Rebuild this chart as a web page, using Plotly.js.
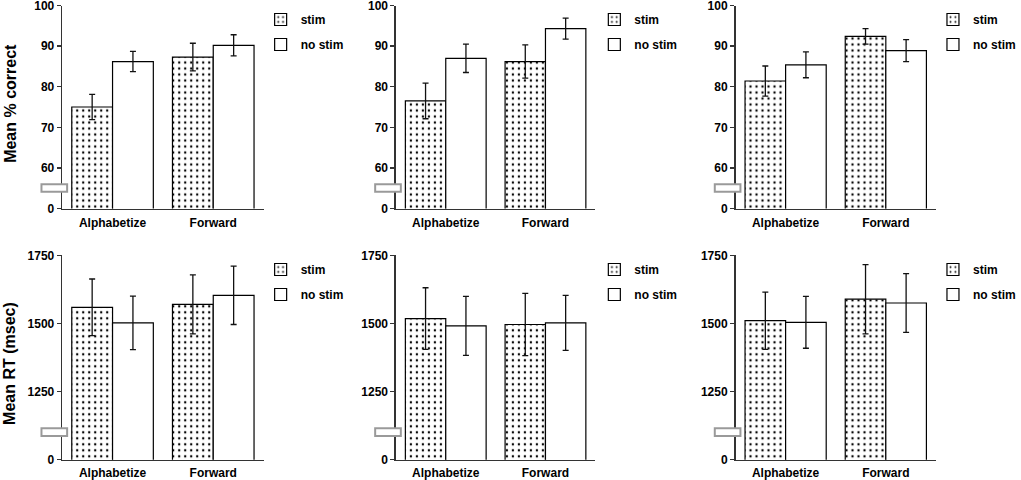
<!DOCTYPE html>
<html>
<head>
<meta charset="utf-8">
<script src="https://cdn.plot.ly/plotly-3.0.1.min.js"></script>
<style>html,body{margin:0;padding:0;background:#fff;}#chart{width:1021px;height:480px;}</style>
</head>
<body>
<div id="chart"></div>
<script>
// ---- data ----
const categories = ['Alphabetize', 'Forward'];
const seriesNames = ['stim', 'no stim'];

// Mean % correct (three panels, top row)
const accStim      = [[75.0, 87.3], [76.5, 86.2], [81.4, 92.4]];
const accStimErr   = [[3.1, 3.4],   [4.4, 4.1],   [3.7, 1.9]];
const accNoStim    = [[86.2, 90.2], [87.0, 94.3], [85.4, 88.9]];
const accNoStimErr = [[2.5, 2.6],   [3.5, 2.6],   [3.2, 2.7]];

// Mean RT in msec (three panels, bottom row)
const rtStim      = [[1559, 1570], [1518, 1496], [1510, 1589]];
const rtStimErr   = [[104, 108],   [113, 114],   [105, 127]];
const rtNoStim    = [[1502, 1603], [1491, 1502], [1504, 1575]];
const rtNoStimErr = [[98, 107],    [108, 101],   [95, 108]];

// axis ticks (broken axis: bottom tick labelled 0)
const accTickVals = [50, 60, 70, 80, 90, 100];
const accTickText = ['0', '60', '70', '80', '90', '100'];
const rtTickVals  = [1000, 1250, 1500, 1750];
const rtTickText  = ['0', '1250', '1500', '1750'];
const accTitle = 'Mean % correct';
const rtTitle  = 'Mean RT (msec)';

// ---- layout helpers ----
const W = 1021, H = 480;
const FONT = 'Liberation Sans, Arial, Helvetica, sans-serif';
const xDomPx = [[63, 267], [401, 603], [745, 948]];
const topDomPx = [5.5, 208.5];
const botDomPx = [255.3, 459.7];
const legendLeftPx = [264, 602, 945];

const traces = [];
const layout = {
  width: W, height: H,
  margin: {l: 0, r: 0, t: 0, b: 0},
  paper_bgcolor: '#fff', plot_bgcolor: '#fff',
  barmode: 'group', bargap: 0.19, bargroupgap: 0,
  font: {family: FONT, size: 12, color: '#000', weight: 'bold'},
  shapes: [], annotations: []
};

function addPanel(idx, stim, stimErr, noStim, noStimErr, tickVals, tickText, range, domPx, breakRange, legendTopPx, xTickLen) {
  const n = idx + 1;
  const xa = n === 1 ? 'x' : 'x' + n;
  const ya = n === 1 ? 'y' : 'y' + n;
  const lg = n === 1 ? 'legend' : 'legend' + n;
  const col = idx % 3;
  const errStyle = {type: 'data', visible: true, color: '#111', thickness: 1.3, width: 3};
  traces.push({
    type: 'bar', x: categories, y: stim, name: seriesNames[0],
    xaxis: xa, yaxis: ya, legend: lg, legendgroup: 'g' + n + 'a',
    marker: {color: '#fff', line: {color: '#000', width: 1.2},
      pattern: {shape: '.', size: 6, solidity: 0.12, fgcolor: '#000', bgcolor: '#fff'}},
    error_y: Object.assign({array: stimErr}, errStyle),
    hoverinfo: 'skip'
  });
  traces.push({
    type: 'bar', x: categories, y: noStim, name: seriesNames[1],
    xaxis: xa, yaxis: ya, legend: lg, legendgroup: 'g' + n + 'b',
    marker: {color: '#fff', line: {color: '#000', width: 1.2}},
    error_y: Object.assign({array: noStimErr}, errStyle),
    hoverinfo: 'skip'
  });
  const xKey = n === 1 ? 'xaxis' : 'xaxis' + n;
  const yKey = n === 1 ? 'yaxis' : 'yaxis' + n;
  layout[xKey] = {
    domain: [xDomPx[col][0] / W, xDomPx[col][1] / W],
    anchor: ya, range: [-0.5, 1.5], type: 'category',
    showline: true, linecolor: '#333', linewidth: 1.5,
    ticks: 'outside', ticklen: xTickLen, tickcolor: 'rgba(0,0,0,0)',
    ticklabeloverflow: 'allow',
    showgrid: false, zeroline: false, fixedrange: true,
    tickfont: {family: FONT, size: 12, color: '#000', weight: 'bold'}
  };
  layout[yKey] = {
    domain: [1 - domPx[1] / H, 1 - domPx[0] / H],
    anchor: xa, range: range,
    tickvals: tickVals, ticktext: tickText,
    showline: true, linecolor: '#333', linewidth: 1.5,
    ticks: 'outside', ticklen: 4, tickcolor: '#333', tickwidth: 1.3,
    ticklabeloverflow: 'allow',
    showgrid: false, zeroline: false, fixedrange: true,
    tickfont: {family: FONT, size: 12, color: '#000', weight: 'bold'}
  };
  layout[lg] = {
    x: legendLeftPx[col] / W, xanchor: 'left',
    y: 1 - legendTopPx / H, yanchor: 'top',
    bgcolor: 'rgba(0,0,0,0)', borderwidth: 0,
    tracegroupgap: 6, itemwidth: 30,
    font: {family: FONT, size: 12, color: '#000', weight: 'bold'}
  };
  // axis break mark
  layout.shapes.push({
    type: 'rect', xref: xa + ' domain', yref: ya,
    x0: -21 / (xDomPx[col][1] - xDomPx[col][0]), x1: 5 / (xDomPx[col][1] - xDomPx[col][0]),
    y0: breakRange[0], y1: breakRange[1],
    fillcolor: '#fff', line: {color: '#9a9a9a', width: 2}, layer: 'above'
  });
}

for (let i = 0; i < 3; i++) {
  addPanel(i, accStim[i], accStimErr[i], accNoStim[i], accNoStimErr[i],
    accTickVals, accTickText, [50, 100], topDomPx, [54.1, 56.0], 5, 3);
}
for (let i = 0; i < 3; i++) {
  addPanel(i + 3, rtStim[i], rtStimErr[i], rtNoStim[i], rtNoStimErr[i],
    rtTickVals, rtTickText, [1000, 1750], botDomPx, [1087, 1115], 255, 1);
}

layout.annotations.push({
  xref: 'paper', yref: 'paper', x: 10 / W, y: 1 - 103 / H,
  xanchor: 'center', yanchor: 'middle', textangle: -90, showarrow: false,
  text: accTitle, font: {family: FONT, size: 16, color: '#000', weight: 'bold'}
});
layout.annotations.push({
  xref: 'paper', yref: 'paper', x: 9 / W, y: 1 - 363 / H,
  xanchor: 'center', yanchor: 'middle', textangle: -90, showarrow: false,
  text: rtTitle, font: {family: FONT, size: 16, color: '#000', weight: 'bold'}
});

Plotly.newPlot('chart', traces, layout, {displayModeBar: false, staticPlot: true});
</script>
</body>
</html>
